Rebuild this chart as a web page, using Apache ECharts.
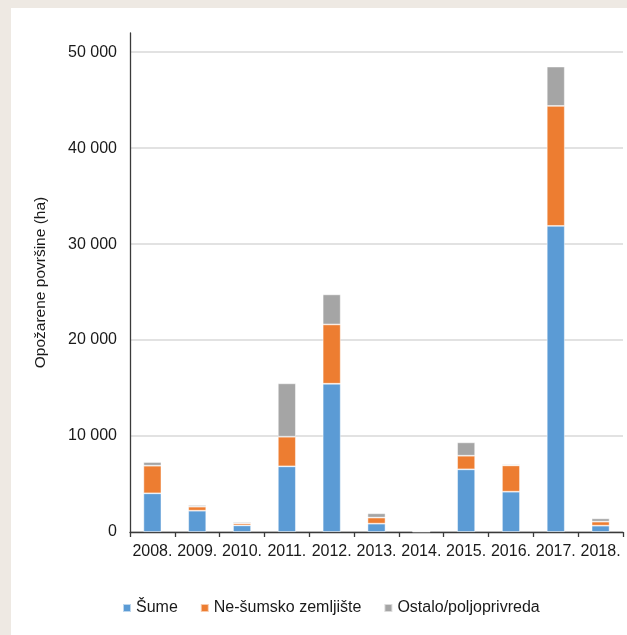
<!DOCTYPE html>
<html>
<head>
<meta charset="utf-8">
<script src="https://cdn.jsdelivr.net/npm/echarts@6/dist/echarts.min.js"></script>
<style>
  html, body { margin: 0; padding: 0; background: #eee9e3; width: 627px; height: 635px; overflow: hidden; }
  #chart { position: absolute; left: 11px; top: 8px; width: 616px; height: 627px; background: #ffffff; }
</style>
</head>
<body>
<div id="chart"></div>
<script>
// Burned area by land type, per year (hectares)
const years = ['2008.', '2009.', '2010.', '2011.', '2012.', '2013.', '2014.', '2015.', '2016.', '2017.', '2018.'];
const sume = [4030, 2220, 690, 6840, 15450, 870, 40, 6530, 4200, 31900, 660];
const neSumsko = [2880, 420, 210, 3090, 6180, 630, 70, 1420, 2740, 12500, 420];
const ostalo = [380, 170, 140, 5560, 3130, 450, 0, 1390, 110, 4100, 340];

const seriesNames = ['Šume', 'Ne-šumsko zemljište', 'Ostalo/poljoprivreda'];
const seriesColors = ['#5b9bd5', '#ed7d31', '#a5a5a5'];
const seriesData = [sume, neSumsko, ostalo];

const font = 'Liberation Sans, Arial, sans-serif';
const textColor = '#1a1a1a';

const chart = echarts.init(document.getElementById('chart'), null, { renderer: 'canvas' });

chart.setOption({
  animation: false,
  textStyle: { fontFamily: font },
  grid: { left: 119, right: 4, top: 25, bottom: 103, containLabel: false },
  legend: {
    left: 106,
    top: 587,
    itemWidth: 8,
    itemHeight: 8,
    itemGap: 22,
    icon: 'rect',
    textStyle: { fontFamily: font, fontSize: 16, color: textColor },
    data: seriesNames
  },
  xAxis: {
    type: 'category',
    data: years,
    axisLine: { show: true, lineStyle: { color: '#3a3a3a', width: 1.3 } },
    axisTick: { show: true, length: 5, lineStyle: { color: '#3a3a3a', width: 1.3 } },
    axisLabel: { margin: 12, fontSize: 16, color: textColor, fontFamily: font, interval: 0 }
  },
  yAxis: {
    type: 'value',
    min: 0,
    max: 52000,
    interval: 10000,
    name: 'Opožarene površine (ha)',
    nameLocation: 'middle',
    nameGap: 81,
    nameTextStyle: { fontSize: 15.5, color: textColor, fontFamily: font },
    axisLine: { show: true, lineStyle: { color: '#3a3a3a', width: 1.3 } },
    axisTick: { show: false },
    axisLabel: {
      margin: 13,
      fontSize: 16,
      color: textColor,
      fontFamily: font,
      showMaxLabel: false,
      formatter: v => String(v).replace(/\B(?=(\d{3})+(?!\d))/g, ' ')
    },
    splitLine: { show: true, showMaxLine: false, lineStyle: { color: '#d9d9d9', width: 1.5 } }
  },
  series: seriesNames.map((name, i) => ({
    name: name,
    type: 'bar',
    stack: 'total',
    barWidth: 18,
    data: seriesData[i],
    itemStyle: { color: seriesColors[i], borderColor: 'rgba(255,255,255,0.6)', borderWidth: 0.8 }
  }))
});
</script>
</body>
</html>
